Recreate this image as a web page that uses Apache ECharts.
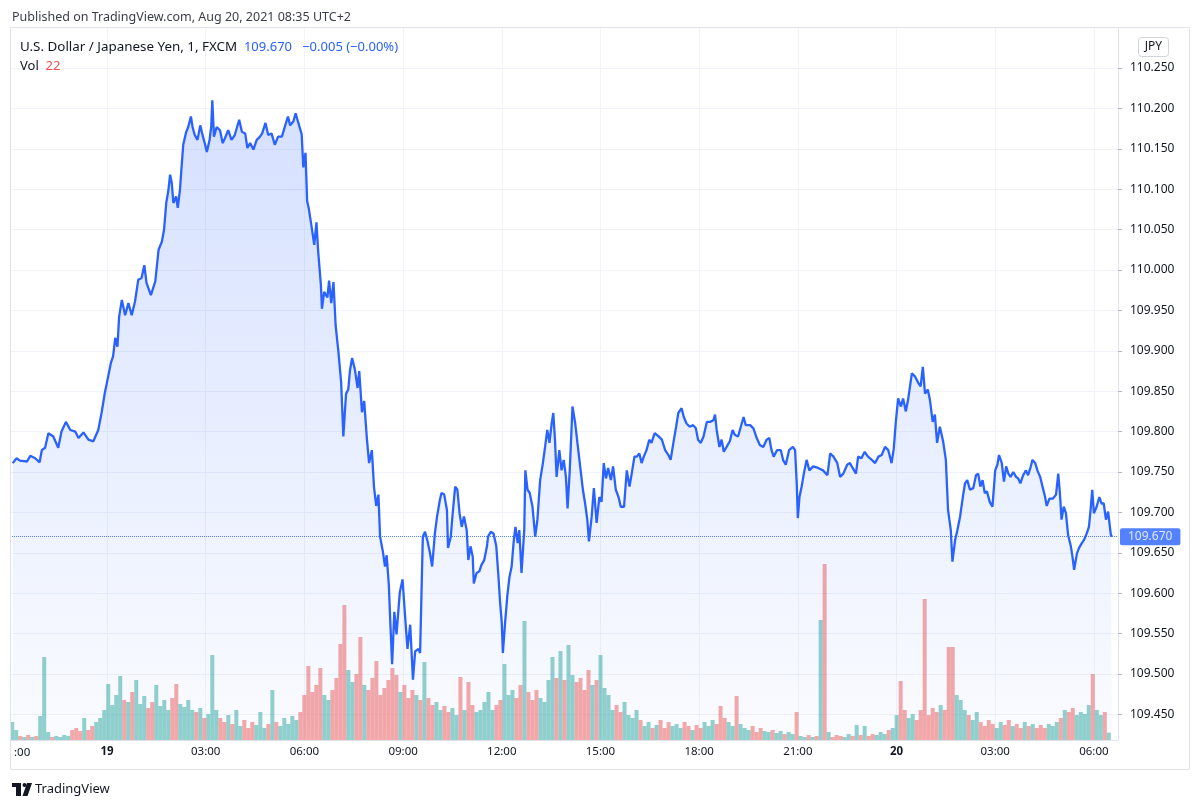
<!DOCTYPE html>
<html><head><meta charset="utf-8">
<script src="https://cdn.jsdelivr.net/npm/echarts@6/dist/echarts.min.js"></script>
<style>html,body{margin:0;padding:0;background:#fff}#c{width:1200px;height:808px}</style>
</head><body><div id="c"></div>
<script>
// minutes since 2021-08-18 21:00 (chart time)
const priceTimes = [8,15,21,34,40,49,57,61,67,73,82,91,97,105,113,122,128,137,146,155,164,170,176,182,187,191,195,199,202,207,213,219,225,231,237,243,248,252,260,268,274,280,284,288,292,295,298,301,306,309,313,316,319,324,328,333,336,340,345,350,355,359,362,367,370,372,375,380,386,391,395,401,407,413,421,426,432,436,441,447,453,459,463,469,474,480,486,492,499,505,510,514,520,524,529,535,538,542,545,548,553,558,562,565,570,572,576,582,585,589,593,597,602,607,611,616,620,623,627,632,637,640,645,649,654,658,663,667,671,675,678,683,687,690,694,697,700,704,708,714,719,724,728,733,738,742,748,751,756,760,764,769,773,778,782,787,790,795,800,802,807,810,815,819,823,827,831,836,839,843,847,849,854,859,863,868,873,875,880,885,890,894,897,900,902,906,910,914,918,922,925,929,932,936,941,943,947,951,956,961,965,970,975,979,983,987,991,994,997,1000,1005,1009,1013,1017,1020,1024,1029,1034,1038,1043,1048,1052,1056,1059,1064,1068,1073,1078,1082,1086,1090,1094,1099,1103,1108,1113,1117,1123,1128,1133,1137,1142,1146,1151,1155,1159,1164,1169,1173,1179,1186,1192,1198,1204,1208,1213,1218,1222,1228,1232,1237,1243,1249,1254,1258,1263,1268,1274,1280,1286,1289,1292,1297,1301,1305,1310,1316,1321,1325,1331,1336,1341,1345,1353,1359,1365,1371,1377,1383,1388,1392,1396,1402,1409,1413,1418,1424,1431,1435,1438,1440,1443,1447,1451,1456,1461,1468,1477,1486,1494,1499,1505,1512,1517,1523,1530,1535,1540,1546,1550,1556,1562,1568,1575,1581,1587,1593,1599,1605,1611,1615,1619,1623,1628,1632,1637,1641,1648,1654,1660,1664,1668,1672,1677,1681,1686,1690,1694,1699,1705,1710,1714,1719,1722,1727,1731,1736,1741,1745,1749,1754,1760,1765,1769,1773,1777,1781,1785,1790,1795,1800,1804,1807,1812,1816,1820,1824,1828,1833,1838,1842,1846,1851,1856,1860,1865,1868,1873,1877,1882,1887,1891,1894,1899,1905,1911,1915,1918,1921,1925,1929,1933,1938,1941,1944,1949,1953,1958,1962,1967,1971,1974,1977,1980,1985,1990,1994,1998,2002,2006,2011,2013];
const priceValues = [109.761,109.767,109.764,109.763,109.770,109.767,109.762,109.777,109.780,109.798,109.794,109.780,109.800,109.812,109.802,109.800,109.792,109.799,109.790,109.788,109.802,109.823,109.848,109.868,109.885,109.893,109.916,109.905,109.942,109.963,109.944,109.959,109.944,109.961,109.988,109.990,110.006,109.984,109.969,109.986,110.025,110.035,110.050,110.083,110.099,110.118,110.108,110.083,110.091,110.077,110.099,110.128,110.155,110.170,110.177,110.190,110.177,110.167,110.161,110.179,110.165,110.155,110.146,110.161,110.177,110.210,110.165,110.177,110.173,110.157,110.163,110.173,110.161,110.167,110.186,110.171,110.169,110.151,110.157,110.149,110.161,110.165,110.169,110.182,110.167,110.169,110.155,110.165,110.165,110.179,110.190,110.179,110.184,110.194,110.182,110.168,110.127,110.145,110.085,110.076,110.054,110.031,110.059,110.024,109.982,109.952,109.973,109.966,109.987,109.959,109.985,109.931,109.899,109.861,109.794,109.847,109.852,109.875,109.891,109.877,109.854,109.875,109.824,109.838,109.791,109.761,109.777,109.731,109.708,109.722,109.670,109.652,109.633,109.647,109.610,109.559,109.512,109.577,109.549,109.601,109.617,109.568,109.531,109.561,109.493,109.528,109.531,109.526,109.670,109.676,109.666,109.650,109.633,109.674,109.695,109.715,109.724,109.722,109.703,109.656,109.670,109.695,109.732,109.728,109.699,109.682,109.695,109.678,109.641,109.658,109.645,109.612,109.625,109.627,109.635,109.641,109.658,109.670,109.676,109.674,109.658,109.620,109.588,109.563,109.526,109.563,109.596,109.620,109.633,109.666,109.682,109.662,109.678,109.625,109.678,109.752,109.728,109.724,109.707,109.670,109.691,109.740,109.761,109.781,109.802,109.786,109.810,109.823,109.790,109.744,109.777,109.752,109.765,109.744,109.705,109.752,109.831,109.810,109.786,109.757,109.728,109.711,109.691,109.664,109.695,109.730,109.687,109.719,109.713,109.761,109.742,109.755,109.740,109.757,109.728,109.719,109.707,109.707,109.752,109.732,109.748,109.769,109.769,109.773,109.761,109.769,109.777,109.790,109.786,109.798,109.794,109.790,109.777,109.771,109.765,109.786,109.806,109.823,109.829,109.818,109.810,109.806,109.808,109.804,109.790,109.786,109.794,109.812,109.812,109.814,109.821,109.802,109.781,109.790,109.775,109.781,109.788,109.802,109.796,109.794,109.806,109.818,109.808,109.808,109.804,109.792,109.783,109.781,109.790,109.792,109.777,109.769,109.777,109.777,109.765,109.759,109.777,109.781,109.777,109.736,109.693,109.719,109.732,109.748,109.765,109.752,109.757,109.755,109.752,109.746,109.773,109.769,109.761,109.744,109.748,109.759,109.761,109.755,109.748,109.769,109.767,109.775,109.769,109.765,109.761,109.769,109.771,109.781,109.777,109.761,109.779,109.814,109.841,109.831,109.841,109.825,109.839,109.872,109.868,109.860,109.856,109.880,109.847,109.852,109.839,109.812,109.821,109.786,109.806,109.788,109.765,109.703,109.678,109.639,109.666,109.678,109.695,109.719,109.736,109.740,109.728,109.730,109.746,109.748,109.732,109.740,109.724,109.726,109.713,109.707,109.752,109.759,109.771,109.761,109.738,109.757,109.748,109.744,109.750,109.744,109.742,109.736,109.746,109.752,109.746,109.757,109.765,109.761,109.752,109.744,109.730,109.719,109.708,109.717,109.717,109.722,109.748,109.724,109.691,109.707,109.699,109.672,109.658,109.645,109.629,109.649,109.656,109.662,109.666,109.674,109.682,109.703,109.728,109.699,109.707,109.719,109.711,109.711,109.691,109.701,109.672,109.670];
// volume aggregated in bins of volStep minutes starting at volStart
const volStart = 7;
const volStep = 7.3;
const volValues = [54,30,12,9,15,9,12,72,249,24,
9,12,9,15,12,30,36,27,66,30,
42,54,66,90,168,105,135,192,120,114,
144,180,108,132,96,114,165,102,120,90,
126,168,108,99,120,90,84,96,66,78,
255,90,66,54,75,48,90,42,60,36,
54,45,84,36,48,150,54,42,66,48,
72,60,84,135,222,144,165,216,135,120,
150,186,288,405,210,174,198,309,165,150,
186,237,135,156,180,216,195,144,165,126,
150,135,120,234,126,105,114,90,102,84,
96,75,189,90,174,105,84,90,114,144,
90,105,120,228,135,150,126,165,357,144,
120,150,126,114,180,249,186,267,180,285,
195,174,186,150,210,165,180,255,156,135,
90,105,84,114,75,66,90,60,42,54,
36,45,60,36,54,42,48,36,54,42,
30,45,36,54,42,60,48,102,66,54,
42,132,48,36,30,42,24,36,27,24,
30,21,27,18,24,18,84,12,9,15,
9,12,360,528,24,9,15,12,9,18,
12,45,15,42,12,18,15,24,18,30,
36,75,177,90,66,78,60,90,423,75,
96,84,105,90,279,279,135,120,90,75,
60,84,54,42,60,48,36,54,45,60,
42,48,36,54,42,48,36,45,36,48,
42,54,66,90,84,96,75,84,78,105,
198,90,75,84,22];
const timeTickMinutes = [180,360,540,720,900,1080,1260,1440,1620,1800,1980];
const timeTickLabels = ['19','03:00','06:00','09:00','12:00','15:00','18:00','21:00','20','03:00','06:00'];
const boldTimeLabels = ['19','20'];
const priceTicks = [109.45,109.50,109.55,109.60,109.65,109.70,109.75,109.80,109.85,109.90,109.95,110.00,110.05,110.10,110.15,110.20,110.25];
const lastPrice = 109.670;
const lastVol = 22;

const FONT = '"Noto Sans", Roboto, sans-serif';
const priceData = priceTimes.map((t, i) => [t, priceValues[i]]);
function priceAt(t) {
  let v = priceValues[0];
  for (let i = 0; i < priceTimes.length; i++) { if (priceTimes[i] <= t) v = priceValues[i]; else break; }
  return v;
}
const UP = 'rgba(38,166,154,0.5)', DOWN = 'rgba(239,83,80,0.5)';
const volData = volValues.map((v, i) => {
  const t = volStart + i * volStep;
  const up = priceAt(t + volStep / 2) >= priceAt(t - volStep / 2);
  return { value: [t, v], itemStyle: { color: up ? UP : DOWN } };
});

const chart = echarts.init(document.getElementById('c'), null, { renderer: 'canvas' });
const gridPos = { left: 10, right: 82, top: 28, bottom: 68 };
const xMin = 3, xMax = 2024;
const graphics = [
  { type: 'rect', shape: { x: 10.5, y: 27.5, width: 1179, height: 742 }, style: { fill: 'none', stroke: '#e0e3eb', lineWidth: 1 }, silent: true, z: 100 },
  { type: 'text', x: 12, y: 17, z: 120, style: { text: 'Published on TradingView.com, Aug 20, 2021 08:35 UTC+2', font: '12.5px ' + FONT, fill: '#3a3d47', textVerticalAlign: 'middle' } },
  { type: 'text', x: 20, y: 47, z: 120, style: { text: '{a|U.S. Dollar / Japanese Yen, 1, FXCM}  {b|' + lastPrice.toFixed(3) + '}   {b|\u22120.005 (\u22120.00%)}', font: '13px ' + FONT, textVerticalAlign: 'middle', rich: { a: { fill: '#131722', font: '13.4px ' + FONT }, b: { fill: '#2962ff', font: '13px ' + FONT } } } },
  { type: 'text', x: 20, y: 66, z: 120, style: { text: '{a|Vol}  {r|' + lastVol + '}', font: '13px ' + FONT, textVerticalAlign: 'middle', rich: { a: { fill: '#131722', font: '13px ' + FONT }, r: { fill: '#ef5350', font: '13px ' + FONT } } } },
  { type: 'rect', shape: { x: 1138.5, y: 37.5, width: 30, height: 19, r: 3 }, style: { fill: '#fff', stroke: '#d1d4dc', lineWidth: 1 }, z: 101 },
  { type: 'text', x: 1153.5, y: 47, style: { text: 'JPY', font: '12px ' + FONT, fill: '#131722', textAlign: 'center', textVerticalAlign: 'middle' }, z: 102 },
  { type: 'text', x: 14, y: 753, z: 120, style: { text: ':00', font: '11.5px ' + FONT, fill: '#131722', textVerticalAlign: 'middle' } },
  { type: 'rect', shape: { x: 12, y: 783, width: 9, height: 4 }, style: { fill: '#131722' } },
  { type: 'rect', shape: { x: 16, y: 783, width: 5, height: 13 }, style: { fill: '#131722' } },
  { type: 'circle', shape: { cx: 24.5, cy: 785, r: 2 }, style: { fill: '#131722' } },
  { type: 'polygon', shape: { points: [[27, 783], [32, 783], [27.5, 796], [22.5, 796]] }, style: { fill: '#131722' } },
  { type: 'text', x: 35, y: 789, style: { text: 'TradingView', font: '13px ' + FONT, fill: '#131722', textVerticalAlign: 'middle' } }
];
if (priceTimes.length !== priceValues.length) {
  graphics.push({ type: 'text', x: 400, y: 15, style: { text: 'LEN MISMATCH ' + priceTimes.length + ' vs ' + priceValues.length, fill: 'red', font: '14px sans-serif' } });
}

chart.setOption({
  animation: false,
  backgroundColor: '#ffffff',
  grid: [Object.assign({}, gridPos), Object.assign({}, gridPos)],
  xAxis: [
    {
      type: 'value', gridIndex: 0, min: xMin, max: xMax,
      axisLine: { show: true, onZero: false, lineStyle: { color: '#e0e3eb' } },
      axisTick: { show: false, customValues: timeTickMinutes },
      axisLabel: {
        customValues: timeTickMinutes, margin: 6, color: '#131722', fontSize: 11.5, fontFamily: FONT,
        formatter: v => { const s = timeTickLabels[timeTickMinutes.indexOf(v)] || ''; return boldTimeLabels.includes(s) ? '{b|' + s + '}' : s; },
        rich: { b: { fontWeight: 'bold', fontSize: 11.5, fontFamily: FONT, color: '#131722' } }
      },
      splitLine: { show: true, lineStyle: { color: '#f0f3fa', width: 1 } }
    },
    { type: 'value', gridIndex: 1, min: xMin, max: xMax, show: false, splitLine: { show: false } }
  ],
  yAxis: [
    {
      type: 'value', gridIndex: 0, position: 'right', min: 109.4183, max: 110.2995, scale: true,
      axisLine: { show: true, lineStyle: { color: '#e0e3eb' } },
      axisTick: { show: true, customValues: priceTicks, length: 4, lineStyle: { color: '#b2b5be' } },
      axisLabel: { customValues: priceTicks, formatter: v => v.toFixed(3), color: '#131722', fontSize: 12, fontFamily: FONT, margin: 12 },
      splitLine: { show: true, lineStyle: { color: '#f0f3fa', width: 1 } }
    },
    { type: 'value', gridIndex: 1, min: 0, max: 2136, show: false, splitLine: { show: false } }
  ],
  series: [
    {
      type: 'bar', xAxisIndex: 1, yAxisIndex: 1, data: volData, barWidth: 4, z: 1, silent: true, large: false
    },
    {
      type: 'line', xAxisIndex: 0, yAxisIndex: 0, data: priceData, showSymbol: false, symbol: 'none', z: 3,
      lineStyle: { color: '#2962ff', width: 2.3 },
      areaStyle: {
        origin: 'start',
        color: new echarts.graphic.LinearGradient(0, 0, 0, 1, [
          { offset: 0, color: 'rgba(41,98,255,0.28)' },
          { offset: 1, color: 'rgba(41,98,255,0.03)' }
        ])
      },
      markLine: {
        symbol: 'none', silent: true, animation: false,
        data: [{ yAxis: lastPrice }],
        lineStyle: { color: '#2962ff', type: 'dotted', width: 1, opacity: 0.8 },
        label: { show: true, position: 'end', formatter: lastPrice.toFixed(3), backgroundColor: '#2962ff', color: '#ffffff', padding: [3, 8, 2, 8], fontSize: 12, fontFamily: FONT, distance: 2, borderRadius: 2 }
      }
    }
  ],
  graphic: graphics
});
</script>
</body></html>
